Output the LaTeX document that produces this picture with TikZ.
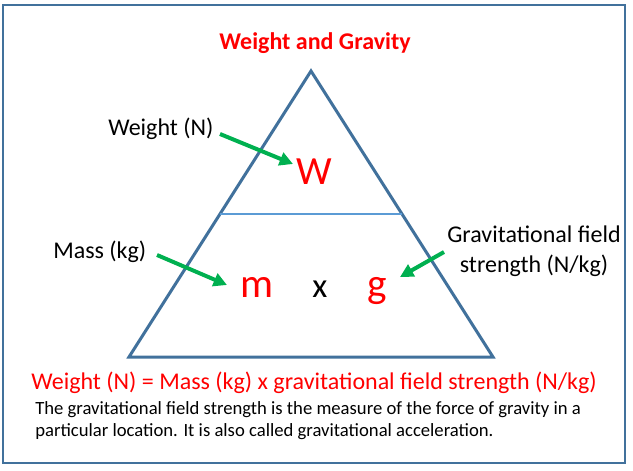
\documentclass[tikz,border=0pt]{standalone}
\usepackage{fontspec}
\setmainfont{Carlito}
\usetikzlibrary{arrows.meta,calc}
\definecolor{edgeblue}{HTML}{41719C}
\definecolor{lineblue}{HTML}{5B9BD5}
\definecolor{arrowgreen}{HTML}{00B050}
\tikzset{
		% text styles: side labels, triangle letters, lower text
		side label/.style={inner sep=0,font=\fontsize{18}{22.5}\selectfont,align=center},
		big letter/.style={inner sep=0,anchor=base,text=red,font=\fontsize{31}{36}\selectfont},
		small letter/.style={inner sep=0,anchor=base,font=\fontsize{26}{30}\selectfont},
		pointer/.style={draw=arrowgreen,line width=3pt,-{Triangle[length=10pt,width=10pt]}}
	}
\begin{document}
\begin{tikzpicture}
		[x=0.75pt,y=-0.75pt,
			tri edge/.style={draw=edgeblue,line width=2.25pt,line join=miter},
			mid line/.style={draw=lineblue,line width=1.6pt}
		]
		\useasboundingbox (0,0) rectangle (633,471);
		\draw[edgeblue,line width=1.1pt] (3,5) rectangle (625,463);
		% the triangle
		\coordinate (apex) at (311,71);
		\coordinate (bl) at (129,357);
		\coordinate (br) at (493,357);
		\draw[tri edge] (apex) -- (br) -- (bl) -- cycle;
		\draw[mid line] ($(apex)!0.5!(bl)$) -- ($(apex)!0.5!(br)$);
		\node[inner sep=0,anchor=base,text=red,font=\fontsize{18}{22}\selectfont\bfseries] (title) at (315,50) {Weight and Gravity};
		\node[big letter,font=\fontsize{30}{36}\selectfont] (W) at (314,184) {W};
		\node[big letter] (m) at (257,297) {m};
		\node[small letter] (times) at (320,297) {x};
		\node[big letter] (g) at (377,297) {g};
		\node[side label,anchor=base west] (weightlbl) at (108,135) {Weight (N)};
		\node[side label,anchor=base west] (masslbl) at (53,258) {Mass (kg)};
		\node[side label,anchor=base] (gravlbl) at (534,272) {Gravitational field\\strength (N/kg)};
		\coordinate (wtail) at (220,134);
		\coordinate (whead) at (293,164);
		\coordinate (mtail) at (157,255);
		\coordinate (mhead) at (227,285);
		\coordinate (gtail) at (444,252);
		\coordinate (ghead) at (400,277);
		\draw[pointer] (wtail) -- (whead);
		\draw[pointer] (mtail) -- (mhead);
		\draw[pointer] (gtail) -- (ghead);
		\node[inner sep=0,anchor=base,text=red,font=\fontsize{18}{22}\selectfont] (formula) at (314,389) {Weight (N) = Mass (kg) x gravitational field strength (N/kg)};
		\node[inner sep=0,anchor=base west,align=left,font=\fontsize{14}{16.5}\selectfont] (note) at (35,436) {The gravitational field strength is the measure of the force of gravity in a\\particular location. It is also called gravitational acceleration.};
	\end{tikzpicture}
\end{document}
